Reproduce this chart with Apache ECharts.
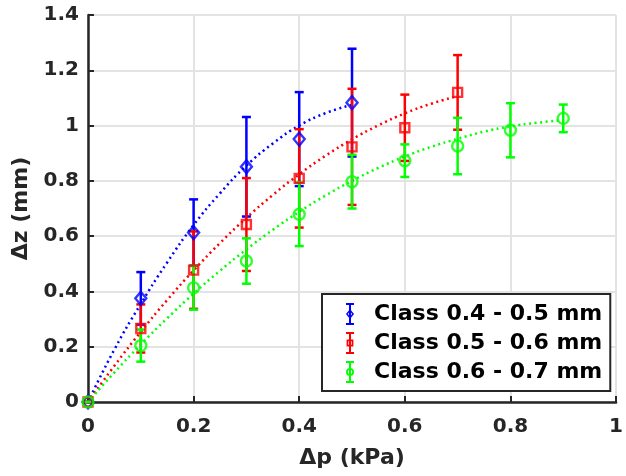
<!DOCTYPE html>
<html>
<head>
<meta charset="utf-8">
<script src="https://cdn.jsdelivr.net/npm/echarts@6/dist/echarts.min.js"></script>
<style>
  html, body { margin: 0; padding: 0; background: #fff; }
  #chart { width: 626px; height: 476px; }
</style>
</head>
<body>
<div id="chart"></div>
<script>
// legend names
const classNames = ['Class 0.4 - 0.5 mm', 'Class 0.5 - 0.6 mm', 'Class 0.6 - 0.7 mm'];
const classColors = ['#0000ff', '#ff0000', '#00ff00'];

// measured points (Δp in kPa, Δz in mm, error = half bar length)
const xBlue = [0, 0.1, 0.2, 0.3, 0.4, 0.5];
const zBlue = [0, 0.375, 0.613, 0.851, 0.951, 1.083];
const errBlue = [0, 0.095, 0.12, 0.18, 0.17, 0.195];

const xRed = [0, 0.1, 0.2, 0.3, 0.4, 0.5, 0.6, 0.7];
const zRed = [0, 0.266, 0.477, 0.642, 0.809, 0.923, 0.992, 1.12];
const errRed = [0, 0.087, 0.14, 0.168, 0.178, 0.21, 0.12, 0.135];

const xGreen = [0, 0.1, 0.2, 0.3, 0.4, 0.5, 0.6, 0.7, 0.8, 0.9];
const zGreen = [0, 0.204, 0.413, 0.51, 0.679, 0.797, 0.873, 0.926, 0.983, 1.026];
const errGreen = [0, 0.058, 0.079, 0.082, 0.115, 0.097, 0.059, 0.102, 0.098, 0.05];

// dotted fit curves, every 0.05 kPa
const fitXBlue = [0, 0.05, 0.1, 0.15, 0.2, 0.25, 0.3, 0.35, 0.4, 0.45, 0.5];
const fitBlue = [0, 0.19, 0.355, 0.505, 0.64, 0.755, 0.855, 0.935, 1.0, 1.045, 1.075];
const fitXRed = [0, 0.05, 0.1, 0.15, 0.2, 0.25, 0.3, 0.35, 0.4, 0.45, 0.5, 0.55, 0.6, 0.65, 0.7];
const fitRed = [0, 0.131, 0.254, 0.369, 0.476, 0.575, 0.666, 0.749, 0.824, 0.891, 0.95, 1.001, 1.044, 1.079, 1.106];
const fitXGreen = [0, 0.05, 0.1, 0.15, 0.2, 0.25, 0.3, 0.35, 0.4, 0.45, 0.5, 0.55, 0.6, 0.65, 0.7, 0.75, 0.8, 0.85, 0.9];
const fitGreen = [0, 0.107, 0.208, 0.303, 0.392, 0.475, 0.552, 0.623, 0.688, 0.747, 0.8, 0.847, 0.888, 0.923, 0.952, 0.978, 0.997, 1.01, 1.02];

const xTicks = [0, 0.2, 0.4, 0.6, 0.8, 1];
const yTicks = [0, 0.2, 0.4, 0.6, 0.8, 1, 1.2, 1.4];

const axisColor = '#262626';
const font = 'DejaVu Sans, Liberation Sans, sans-serif';

// legend icons: error bar with hollow marker
const iconBlue = 'path://M0 0H8V2H0Z M0 20H8V22H0Z M3 0H5V22H3Z M4 6L8 11L4 16L0 11Z M4 8.3L1.9 11L4 13.7L6.1 11Z';
const iconRed = 'path://M0 0H8V2H0Z M0 20H8V22H0Z M3 0H5V22H3Z M0.6 7.6H7.4V14.4H0.6Z M2.3 9.3V12.7H5.7V9.3Z';
const iconGreen = 'path://M0 0H8V2H0Z M0 20H8V22H0Z M3 0H5V22H3Z M0 11A4 4 0 1 1 8 11A4 4 0 1 1 0 11Z M1.8 11A2.2 2.2 0 1 0 6.2 11A2.2 2.2 0 1 0 1.8 11Z';

function barData(xs, zs, errs) {
  return xs.map((x, i) => [x, zs[i] - errs[i], zs[i] + errs[i]]);
}

function errorBars(color) {
  return function (params, api) {
    const x = api.value(0);
    const top = api.coord([x, api.value(2)]);
    const bot = api.coord([x, api.value(1)]);
    const w = 4.5;
    const style = { stroke: color, lineWidth: 2.5 };
    return {
      type: 'group',
      children: [
        { type: 'line', shape: { x1: top[0], y1: top[1], x2: bot[0], y2: bot[1] }, style: style },
        { type: 'line', shape: { x1: top[0] - w, y1: top[1], x2: top[0] + w, y2: top[1] }, style: style },
        { type: 'line', shape: { x1: bot[0] - w, y1: bot[1], x2: bot[0] + w, y2: bot[1] }, style: style }
      ]
    };
  };
}

function fitSeries(xs, ys, color) {
  return {
    name: 'fit',
    type: 'line',
    data: xs.map((x, i) => [x, ys[i]]),
    smooth: true,
    showSymbol: false,
    silent: true,
    lineStyle: { color: color, width: 2.5, type: [2, 3.5] },
    z: 3
  };
}

function markerSeries(name, xs, zs, color, symbol, size) {
  return {
    name: name,
    type: 'scatter',
    data: xs.map((x, i) => [x, zs[i]]),
    symbol: symbol,
    symbolSize: size,
    itemStyle: { color: 'none', borderColor: color, borderWidth: 2.4 },
    z: 5
  };
}

const chart = echarts.init(document.getElementById('chart'));
chart.setOption({
  animation: false,
  backgroundColor: '#fff',
  grid: { left: 88, right: 8, top: 15, bottom: 74 },
  xAxis: {
    type: 'value',
    min: 0, max: 1, interval: 0.2,
    name: 'Δp (kPa)',
    nameLocation: 'middle',
    nameGap: 45,
    nameTextStyle: { color: axisColor, fontFamily: font, fontWeight: 'bold', fontSize: 22 },
    axisLine: { show: true, lineStyle: { color: axisColor, width: 2.5 } },
    axisTick: { show: true, inside: true, length: 6, lineStyle: { color: axisColor, width: 2 } },
    axisLabel: { color: axisColor, fontFamily: font, fontWeight: 'bold', fontSize: 20, margin: 15,
      formatter: v => String(xTicks.find(t => Math.abs(t - v) < 1e-6) ?? v) },
    splitLine: { show: true, lineStyle: { color: '#e3e3e3', width: 2 } }
  },
  yAxis: {
    type: 'value',
    min: 0, max: 1.4, interval: 0.2,
    name: 'Δz (mm)',
    nameLocation: 'middle',
    nameGap: 52,
    nameTextStyle: { color: axisColor, fontFamily: font, fontWeight: 'bold', fontSize: 22 },
    axisLine: { show: true, lineStyle: { color: axisColor, width: 2.5 } },
    axisTick: { show: true, inside: true, length: 6, lineStyle: { color: axisColor, width: 2 } },
    axisLabel: { color: axisColor, fontFamily: font, fontWeight: 'bold', fontSize: 20, margin: 9,
      formatter: v => String(yTicks.find(t => Math.abs(t - v) < 1e-6) ?? v) },
    splitLine: { show: true, lineStyle: { color: '#e3e3e3', width: 2 } }
  },
  legend: {
    orient: 'vertical',
    left: 322,
    top: 294,
    padding: [9, 8, 8, 24],
    itemWidth: 8,
    itemHeight: 22,
    itemGap: 7,
    symbolKeepAspect: true,
    backgroundColor: '#fff',
    borderColor: axisColor,
    borderWidth: 2,
    borderRadius: 0,
    textStyle: { color: '#000', fontFamily: font, fontWeight: 'bold', fontSize: 22, padding: [0, 0, 0, 15] },
    data: [
      { name: classNames[0], icon: iconBlue },
      { name: classNames[1], icon: iconRed },
      { name: classNames[2], icon: iconGreen }
    ]
  },
  series: [
    {
      name: classNames[0], type: 'custom', renderItem: errorBars(classColors[0]),
      data: barData(xBlue, zBlue, errBlue), encode: { x: 0, y: [1, 2] },
      itemStyle: { color: classColors[0] }, z: 4
    },
    {
      name: classNames[1], type: 'custom', renderItem: errorBars(classColors[1]),
      data: barData(xRed, zRed, errRed), encode: { x: 0, y: [1, 2] },
      itemStyle: { color: classColors[1] }, z: 4
    },
    {
      name: classNames[2], type: 'custom', renderItem: errorBars(classColors[2]),
      data: barData(xGreen, zGreen, errGreen), encode: { x: 0, y: [1, 2] },
      itemStyle: { color: classColors[2] }, z: 4
    },
    markerSeries(classNames[0], xBlue, zBlue, classColors[0], 'diamond', [11, 13]),
    markerSeries(classNames[1], xRed, zRed, classColors[1], 'rect', [9, 9]),
    markerSeries(classNames[2], xGreen, zGreen, classColors[2], 'circle', 11),
    fitSeries(fitXBlue, fitBlue, classColors[0]),
    fitSeries(fitXRed, fitRed, classColors[1]),
    fitSeries(fitXGreen, fitGreen, classColors[2])
  ]
});
</script>
</body>
</html>
